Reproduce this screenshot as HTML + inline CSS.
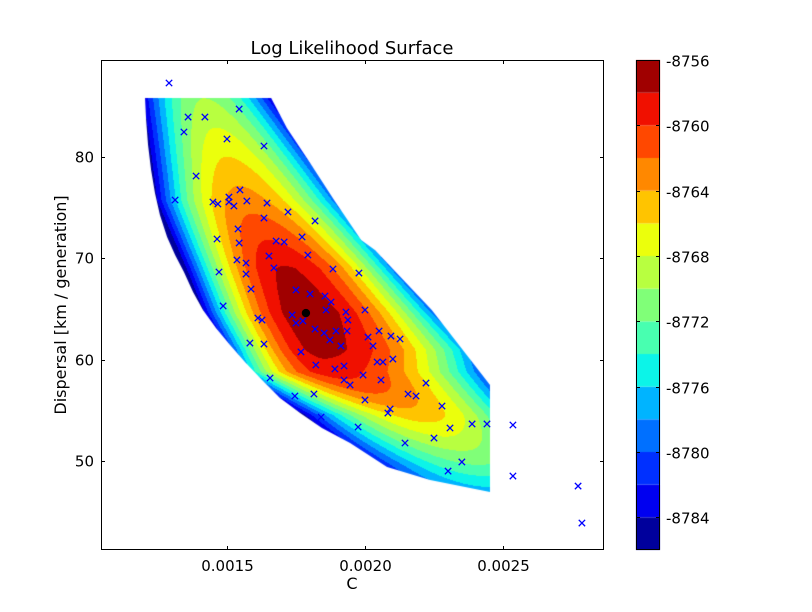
<!DOCTYPE html>
<html><head><meta charset="utf-8"><style>
body{margin:0;background:#fff;}
#wrap{position:relative;width:812px;height:612px;overflow:hidden;background:#fff;}
canvas,svg{position:absolute;left:0;top:0;}
text{font-family:"DejaVu Sans","Liberation Sans",sans-serif;fill:#000;}
</style></head><body>
<div id="wrap">
<canvas id="cv" width="812" height="612"></canvas>
<svg id="sv" width="812" height="612"></svg>
</div>
<script>
// ---- data ----
const xTicks = [0.0015, 0.0020, 0.0025];
const xTickLabels = ["0.0015", "0.0020", "0.0025"];
const yTicks = [50, 60, 70, 80];
const yTickLabels = ["50", "60", "70", "80"];
const cbTicks = [-8756, -8760, -8764, -8768, -8772, -8776, -8780, -8784];
const levels = [-8786,-8784,-8782,-8780,-8778,-8776,-8774,-8772,-8770,-8768,-8766,-8764,-8762,-8760,-8758,-8756];
const bandColors = ["#00009c","#0000f0","#0030ff","#0070ff","#00b4ff","#0cf4e8","#48ffb0","#80ff78","#b8ff40","#ebff0c","#ffc400","#ff8800","#ff4800","#f01000","#a00000"];
// surface ridge rows (C in 1e-4 units)
const rowD = [85.8, 75.7, 69.0, 64.6, 61.0, 58.8, 54.5, 49.6, 46.9];
const rowCenterC = [14.17, 15.62, 17.10, 17.86, 18.37, 18.73, 22.00, 24.17, 24.6];
const rowValue = [-8770, -8763, -8757.8, -8756.5, -8757.3, -8759, -8765, -8772, -8777];
const rowWidthL = [1.85, 2.17, 2.2, 2.21, 2.1, 2.2, 3.0, 3.6, 3.6];
const rowWidthR = [2.1, 2.61, 2.7, 3.1, 3.7, 3.8, 2.9, 3.0, 3.0];
// domain boundary (C 1e-4, D)
const boundC = [12.03,12.07,12.14,12.25,12.39,12.57,12.83,13.12,13.44,13.77,14.13,14.60,15.11,15.65,16.27,16.92,17.65,18.44,19.46,20.80,22.36,24.53,24.53,22.42,20.36,19.86,18.88,17.94,17.17,16.60];
const boundD = [85.83,83.66,81.20,78.73,76.45,74.28,72.11,70.33,68.65,66.68,64.90,63.12,61.45,59.77,57.99,56.21,54.73,53.25,51.77,49.40,48.12,46.93,57.50,64.91,70.82,71.81,75.76,79.71,82.86,85.83];
// sample points (C 1e-4, D)
const ptC = [12.90,13.59,14.20,15.44,13.44,15.00,16.34,13.88,13.12,15.47,14.49,14.67,15.07,15.07,15.25,15.72,16.45,16.34,17.21,18.19,15.40,14.64,15.44,16.78,17.07,17.72,17.93,15.36,15.69,16.52,16.70,18.84,19.78,14.71,15.69,15.87,17.50,18.01,18.55,18.77,14.86,18.59,19.31,20.00,19.38,17.36,17.50,17.75,16.12,16.27,18.19,18.52,18.95,19.35,18.73,19.13,20.51,20.11,20.94,21.27,20.29,15.83,16.34,17.68,20.44,20.65,21.01,18.22,18.91,19.24,19.93,19.24,19.46,20.58,16.56,22.21,21.56,21.85,17.46,18.15,20.00,22.79,20.91,20.83,18.41,23.08,23.88,24.42,19.75,22.50,21.45,23.51,23.01,25.36,25.36,27.72,27.86];
const ptD = [87.31,83.95,83.95,84.74,82.47,81.78,81.09,78.13,75.76,76.75,75.56,75.37,76.05,75.56,75.17,75.66,75.46,73.98,74.58,73.69,72.90,71.91,71.52,71.71,71.61,72.11,70.33,69.84,69.54,70.23,69.05,68.95,68.55,68.65,68.45,66.97,66.88,66.48,66.28,65.69,65.30,64.90,64.70,64.90,63.91,64.41,63.62,63.82,64.11,63.91,63.02,62.63,62.83,62.83,61.94,61.35,62.83,62.23,62.33,62.04,61.35,61.64,61.54,60.76,59.77,59.77,60.06,59.47,59.08,59.37,58.48,57.99,57.50,57.99,58.19,57.69,56.61,56.41,56.41,56.61,56.02,55.42,55.13,54.73,54.34,53.25,53.65,53.65,53.35,52.26,51.77,49.90,49.00,53.55,48.51,47.52,43.87];
const bestC = 17.86, bestD = 64.60;

// ---- axes ----
const PX0=101, PX1=604, PY0=60, PY1=550;
const CMIN=10.435, CMAX=CMIN+(PX1-PX0)/27.6;
const DMAX=89.58, DMIN=DMAX-(PY1-PY0)/10.13;
function xs(c){return PX0+(c-CMIN)*27.6;}
function ys(d){return PY0+(DMAX-d)*10.13;}
function xinv(x){return CMIN+(x-PX0)/27.6;}
function yinv(y){return DMAX-(y-PY0)/10.13;}
const CB0=-8786, CB1=-8756, CBX=636, CBW=24;
function cby(v){return PY1-(v-CB0)/(CB1-CB0)*(PY1-PY0);}

function surf(c,d){
  let i=0;
  while(i<rowD.length-2 && d<rowD[i+1]) i++;
  let t=(rowD[i]-d)/(rowD[i]-rowD[i+1]); t=Math.max(0,Math.min(1,t));
  const L=(a)=>a[i]+(a[i+1]-a[i])*t;
  const cc=L(rowCenterC), v=L(rowValue), w=c<cc?L(rowWidthL):L(rowWidthR);
  const q=(c-cc)/w;
  return v-10*q*q;
}
// ---- draw surface ----
const cv=document.getElementById('cv'), ctx=cv.getContext('2d');
ctx.save();
ctx.beginPath();
for(let k=0;k<boundC.length;k++){const x=xs(boundC[k]),y=ys(boundD[k]); k?ctx.lineTo(x,y):ctx.moveTo(x,y);}
ctx.closePath(); ctx.clip();
for(let py=PY0;py<PY1;py++){
  const d=yinv(py+0.5);
  let prev=-1, start=PX0;
  for(let px=PX0;px<=PX1;px++){
    let b=-2;
    if(px<PX1){const v=surf(xinv(px+0.5),d); b=Math.floor((v-CB0)/2); b=Math.max(0,Math.min(14,b));}
    if(b!==prev){ if(prev>=0){ctx.fillStyle=bandColors[prev];ctx.fillRect(start,py,px-start,1);} prev=b; start=px;}
  }
}
ctx.restore();
// colorbar
for(let k=0;k<bandColors.length;k++){
  ctx.fillStyle=bandColors[k];
  const y0=cby(levels[k+1]), y1=cby(levels[k]);
  ctx.fillRect(CBX,y0,CBW,y1-y0);
}

// ---- svg ----
const NS="http://www.w3.org/2000/svg", sv=document.getElementById('sv');
function mk(tag,attrs,parent){const e=document.createElementNS(NS,tag);for(const k in attrs)e.setAttribute(k,attrs[k]);(parent||sv).appendChild(e);return e;}

const pts=mk('g',{});


for(let k=0;k<ptC.length;k++){
  const x=xs(ptC[k]), y=ys(ptD[k]), s=3.2;
  const p=mk('path',{d:`M${x-s},${y-s}L${x+s},${y+s}M${x-s},${y+s}L${x+s},${y-s}`,stroke:'#0000ff','stroke-width':1.3,fill:'none'},pts);
  
  
}
const best=mk('circle',{cx:xs(bestC),cy:ys(bestD),r:4.2,fill:'#000'});



const frame=mk('rect',{x:PX0+0.5,y:PY0+0.5,width:PX1-PX0-1,height:PY1-PY0-1,fill:'none',stroke:'#000','stroke-width':1});



for(let k=0;k<xTicks.length;k++){
  const x=Math.round(xs(xTicks[k]*1e4))+0.5;
  mk('path',{d:`M${x},${PY1}v-4M${x},${PY0}v4`,stroke:'#000'});
  const t=mk('text',{x:x,y:PY1+21,'text-anchor':'middle','font-size':15});
  t.textContent=xTickLabels[k];
  
  
}
for(let k=0;k<yTicks.length;k++){
  const y=Math.round(ys(yTicks[k]))+0.5;
  mk('path',{d:`M${PX0},${y}h4M${PX1},${y}h-4`,stroke:'#000'});
  const t=mk('text',{x:PX0-7,y:y+5,'text-anchor':'end','font-size':15});
  t.textContent=yTickLabels[k];
  
  
}
const cbf=mk('rect',{x:CBX+0.5,y:PY0+0.5,width:CBW-1,height:PY1-PY0-1,fill:'none',stroke:'#000'});


for(let k=0;k<cbTicks.length;k++){
  const y=Math.round(cby(cbTicks[k]))+0.5;
  mk('path',{d:`M${CBX},${y}h4M${CBX+CBW},${y}h-4`,stroke:'#000'});
  const t=mk('text',{x:CBX+CBW+6,y:y+6,'font-size':15});
  t.textContent=String(cbTicks[k]);
  
  
}
const title=mk('text',{x:352,y:54,'text-anchor':'middle','font-size':18});
title.textContent='Log Likelihood Surface';


const xl=mk('text',{x:352,y:589,'text-anchor':'middle','font-size':16});
xl.textContent='C';


const yl=mk('text',{x:0,y:0,'text-anchor':'middle','font-size':16,transform:'translate(66,305) rotate(-90)'});
yl.textContent='Dispersal [km / generation]';


</script>
</body></html>
